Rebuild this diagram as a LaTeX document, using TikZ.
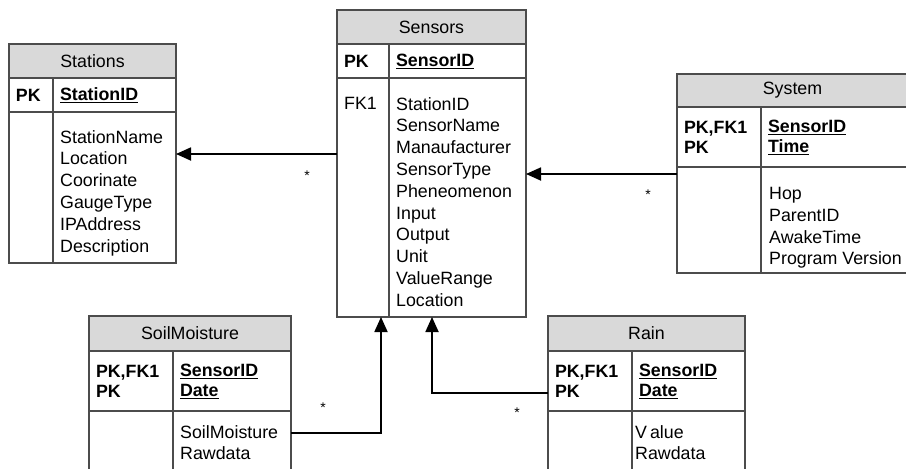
\documentclass[tikz,border=0pt]{standalone}
\usepackage{fontspec}
\setmainfont{Liberation Sans}
\usetikzlibrary{arrows.meta}
\definecolor{tabline}{gray}{0.3}
\definecolor{headfill}{gray}{0.85}
\tikzset{tabhead/.style={draw=tabline, fill=headfill, line width=1.2pt, anchor=north west,
  inner sep=0pt, outer sep=0pt, font=\fontsize{17.8}{21.8}\selectfont}}
\tikzset{keycell/.style={draw=tabline, line width=1.2pt, anchor=north west, inner xsep=7pt,
  inner ysep=0pt, outer sep=0pt, align=left, font=\fontsize{17.8}{20}\selectfont\bfseries}}
\tikzset{bodycell/.style={draw=tabline, line width=1.2pt, anchor=north west, inner sep=0pt, outer sep=0pt}}
\tikzset{attr/.style={anchor=north west, inner sep=0pt, align=left, font=\fontsize{17.8}{21.8}\selectfont}}
\tikzset{fk/.style={line width=1.8pt, -{Triangle[length=15pt,width=13pt]}}}
\tikzset{many/.style={inner sep=0pt, font=\fontsize{14}{14}\selectfont}}

\begin{document}
\begin{tikzpicture}[x=1pt, y=-1pt]
      \useasboundingbox (0,0) rectangle (906,469);
      \clip (0,0) rectangle (906,469);
      \node[tabhead, minimum width=167pt, minimum height=34pt] (stations) at (9,44) {Stations};
      \node[keycell, text width=30pt, minimum height=34pt] (stations-kl) at (stations.south west) {PK};
      \node[keycell, text width=109pt, minimum height=34pt] (stations-kr) at (stations-kl.north east) {\underline{StationID}};
      \node[bodycell, minimum width=44pt, minimum height=151pt] (stations-bl) at (stations-kl.south west) {};
      \node[bodycell, minimum width=123pt, minimum height=151pt] (stations-br) at (stations-bl.north east) {};
      \node[attr] (stations-att) at ([xshift=7pt,yshift=-18pt]stations-br.north west)
        {StationName\\Location\\Coorinate\\GaugeType\\IPAddress\\Description};

      \node[tabhead, minimum width=189pt, minimum height=34pt] (sensors) at (337,10) {Sensors};
      \node[keycell, text width=38pt, minimum height=34pt] (sensors-kl) at (sensors.south west) {PK};
      \node[keycell, text width=123pt, minimum height=34pt] (sensors-kr) at (sensors-kl.north east) {\underline{SensorID}};
      \node[bodycell, minimum width=52pt, minimum height=239pt] (sensors-bl) at (sensors-kl.south west) {};
      \node[bodycell, minimum width=137pt, minimum height=239pt] (sensors-br) at (sensors-bl.north east) {};
      \node[attr] (sensors-fk) at ([xshift=7pt,yshift=-19pt]sensors-bl.north west) {FK1};
      \node[attr] (sensors-att) at ([xshift=7pt,yshift=-19pt]sensors-br.north west)
        {StationID\\SensorName\\Manaufacturer\\SensorType\\Pheneomenon\\Input\\Output\\Unit\\ValueRange\\Location};

      \node[tabhead, minimum width=231pt, minimum height=33pt] (system) at (677,74) {System};
      \node[keycell, text width=70pt, minimum height=60pt] (system-kl) at (system.south west) {PK,FK1\\PK};
      \node[keycell, text width=133pt, minimum height=60pt] (system-kr) at (system-kl.north east) {\underline{SensorID}\\\underline{Time}};
      \node[bodycell, minimum width=84pt, minimum height=106pt] (system-bl) at (system-kl.south west) {};
      \node[bodycell, minimum width=147pt, minimum height=106pt] (system-br) at (system-bl.north east) {};
      \node[attr] (system-att) at ([xshift=8pt,yshift=-20pt]system-br.north west)
        {Hop\\ParentID\\AwakeTime\\Program Version};

      \node[tabhead, minimum width=202pt, minimum height=35pt] (soil) at (89,316) {SoilMoisture};
      \node[keycell, text width=70pt, minimum height=60pt] (soil-kl) at (soil.south west) {PK,FK1\\PK};
      \node[keycell, text width=104pt, minimum height=60pt] (soil-kr) at (soil-kl.north east) {\underline{SensorID}\\\underline{Date}};
      \node[bodycell, minimum width=84pt, minimum height=80pt] (soil-bl) at (soil-kl.south west) {};
      \node[bodycell, minimum width=118pt, minimum height=80pt] (soil-br) at (soil-bl.north east) {};
      \node[attr] (soil-att) at ([xshift=7pt,yshift=-14pt]soil-br.north west) {SoilMoisture\\Rawdata};

      \node[tabhead, minimum width=197pt, minimum height=35pt] (rain) at (548,316) {Rain};
      \node[keycell, text width=70pt, minimum height=60pt] (rain-kl) at (rain.south west) {PK,FK1\\PK};
      \node[keycell, text width=99pt, minimum height=60pt] (rain-kr) at (rain-kl.north east) {\underline{SensorID}\\\underline{Date}};
      \node[bodycell, minimum width=84pt, minimum height=80pt] (rain-bl) at (rain-kl.south west) {};
      \node[bodycell, minimum width=113pt, minimum height=80pt] (rain-br) at (rain-bl.north east) {};
      \node[attr] (rain-att) at ([xshift=3pt,yshift=-14pt]rain-br.north west) {V\kern3pt alue\\Rawdata};

      \path ([yshift=-76pt]sensors-bl.north west) coordinate (st-link);
      \path ([yshift=-7pt]system-bl.north west) coordinate (sy-link);
      \draw[fk] (st-link) -- (stations-br.east |- st-link);
      \draw[fk] (sy-link) -- (sensors-br.east |- sy-link);
      \draw[fk] ([yshift=-22pt]soil-br.north east) -| ([xshift=-8pt]sensors-bl.south east);
      \draw[fk] ([yshift=18pt]rain-kl.south west) -| ([xshift=43pt]sensors-br.south west);
      \node[many] (st-many) at (307,176) {*};
      \node[many] (sy-many) at (648,195) {*};
      \node[many] (soil-many) at (323,408) {*};
      \node[many] (rain-many) at (517,413) {*};
    \end{tikzpicture}
\end{document}
